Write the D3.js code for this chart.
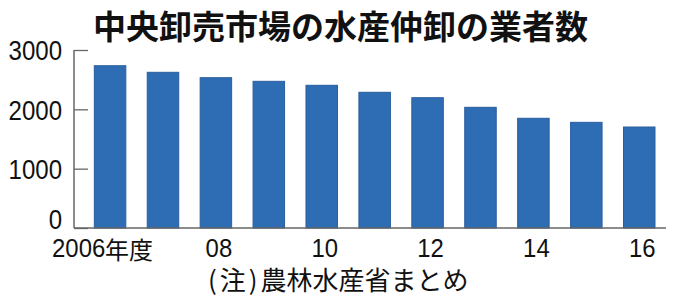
<!DOCTYPE html>
<html><head><meta charset="utf-8">
<script src="https://cdn.jsdelivr.net/npm/d3@7"></script>
<style>
html,body{margin:0;padding:0;background:#fff;}
svg{display:block;}
</style></head>
<body>
<script>
const years = ["2006","2007","2008","2009","2010","2011","2012","2013","2014","2015","2016"];
const counts = [2735, 2624, 2533, 2472, 2405, 2287, 2196, 2034, 1849, 1781, 1702];
const yTicks = [0, 1000, 2000, 3000];
const xTickYears = ["2006","2008","2010","2012","2014","2016"];
const xTickText = ["2006","08","10","12","14","16"];
const firstSuffix = "年度";
const titleText = "中央卸売市場の水産仲卸の業者数";
const noteParts = ["(", "注", ")", "農林水産省まとめ"];

const W = 680, H = 304;
const numFont = "'Liberation Sans','Arial',sans-serif";
const cjkFont = "'Noto Sans CJK JP','Noto Sans CJK SC',sans-serif";
const sxY = 0.89, sxX = 0.92;

const svg = d3.select("body").append("svg").attr("width", W).attr("height", H);

const axisX0 = 74, axisX1 = 666;
const y = d3.scaleLinear().domain([0, 3000]).range([228, 50]);
const x = d3.scaleBand().domain(years).range([83.6, 665.7]).paddingInner(0.405).paddingOuter(0.2025);

// title
svg.append("text").attr("x", 93).attr("y", 39)
  .attr("font-family", cjkFont).attr("font-weight", "bold").attr("font-size", 33)
  .attr("fill", "#111").text(titleText);

// bars
svg.append("g").selectAll("rect").data(years).join("rect")
  .attr("x", d => x(d)).attr("width", x.bandwidth())
  .attr("y", (d, i) => y(counts[i])).attr("height", (d, i) => y(0) - y(counts[i]))
  .attr("fill", "#2e6cb3").attr("stroke", "#295d9e").attr("stroke-width", 1);

// y axis
const gy = svg.append("g").attr("transform", `translate(${axisX0},0)`)
  .call(d3.axisLeft(y).tickValues(yTicks).tickSizeInner(-14).tickSizeOuter(0).tickPadding(12).tickFormat(d3.format("d")));
gy.select(".domain").remove();
gy.selectAll(".tick line").attr("stroke", "#666").attr("stroke-width", 1.3);
gy.selectAll(".tick text").attr("font-family", numFont).attr("font-size", 27).attr("fill", "#111")
  .attr("x", -12 / sxY).attr("transform", `scale(${sxY},1)`)
  .attr("dy", d => d === 0 ? "0em" : "0.36em");

// x axis
const gx = svg.append("g").attr("transform", `translate(0,${y(0)})`)
  .call(d3.axisBottom(x).tickValues(xTickYears).tickSize(0).tickPadding(11)
    .tickFormat(d => xTickText[xTickYears.indexOf(d)]));
gx.select(".domain").remove();
gx.selectAll(".tick text").attr("font-family", numFont).attr("font-size", 26).attr("fill", "#111")
  .attr("y", 11).attr("dy", "0.71em")
  .attr("x", 3 / sxX).attr("transform", `scale(${sxX},1)`);
gx.selectAll(".tick").filter(d => d === "2006").each(function() {
  const g = d3.select(this);
  const t = g.select("text");
  t.attr("text-anchor", "start").attr("x", -58 / sxX);
  g.append("text").attr("text-anchor", "start").attr("x", -5).attr("y", 30.5)
    .attr("font-family", cjkFont).attr("font-size", 24).attr("fill", "#111")
    .text(firstSuffix);
});

// axis lines
svg.append("line").attr("x1", axisX0).attr("x2", axisX0).attr("y1", y(3000)).attr("y2", y(0))
  .attr("stroke", "#666").attr("stroke-width", 1.5);
svg.append("line").attr("x1", axisX0).attr("x2", axisX1).attr("y1", y(0)).attr("y2", y(0))
  .attr("stroke", "#666").attr("stroke-width", 1.5);

// note
const note = svg.append("text").attr("x", 208).attr("y", 290)
  .attr("font-family", cjkFont).attr("font-size", 26).attr("fill", "#111");
note.append("tspan").text(noteParts[0]);
note.append("tspan").attr("dx", 3).text(noteParts[1]);
note.append("tspan").attr("dx", 3).text(noteParts[2]);
note.append("tspan").attr("dx", 3).text(noteParts[3]);
</script>
</body></html>
